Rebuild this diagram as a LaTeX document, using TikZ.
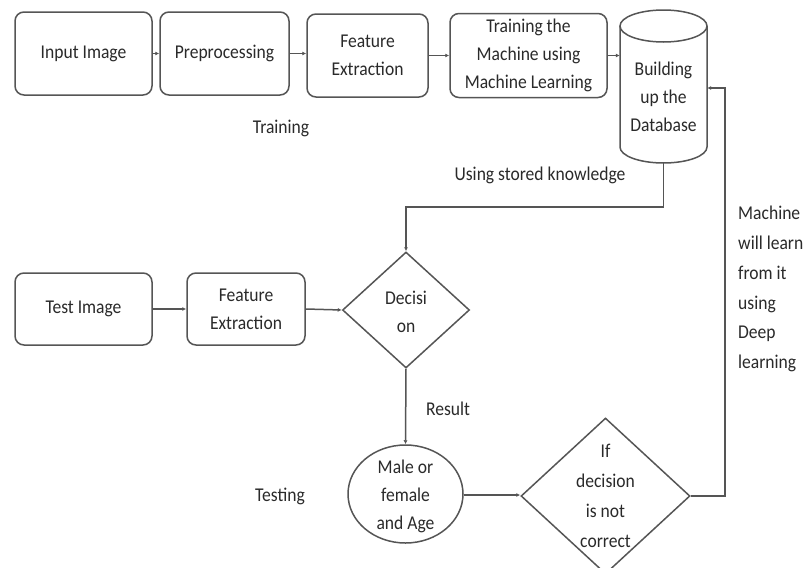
\documentclass[tikz,border=0pt]{standalone}
\usepackage{fontspec}
\setmainfont[FakeStretch=0.9]{Carlito}
\usetikzlibrary{shapes.geometric,arrows.meta,calc}
\definecolor{ln}{HTML}{555555}
\definecolor{tx}{HTML}{2A2A2A}
\begin{document}
\begin{tikzpicture}[x=1pt,y=-1pt,
  every node/.style={text=tx,font=\fontsize{19.5}{28}\selectfont,align=center,inner sep=0pt},
  rbox/.style={draw=ln,line width=1.5pt,rounded corners=9pt},
  dia/.style={draw=ln,line width=1.5pt,diamond,inner sep=0pt},
  conn/.style={draw=ln,line width=1.5pt,-{Latex[length=4pt,width=4pt]}},
  plain/.style={draw=ln,line width=1.5pt}]
\useasboundingbox (0,0) rectangle (807,568);
\fill[white] (0,0) rectangle (807,568);
% training row
\node[rbox,minimum width=137pt,minimum height=83pt] (in) at (83.5,53.5) {Input Image};
\node[rbox,minimum width=129pt,minimum height=83pt] (pre) at (224.5,53.5) {Preprocessing};
\node[rbox,minimum width=121pt,minimum height=83pt] (fe1) at (367.5,55.5) {Feature\\Extraction};
\node[rbox,minimum width=157pt,minimum height=84pt] (tr) at (528.5,55.5) {};
\node (trt) at (528.5,55.5) {Training the\\Machine using\\Machine Learning};
% database cylinder
\node[minimum width=87pt,minimum height=153pt] (db) at (663.5,86.5) {};
\draw[plain] (620,26) -- (620,147) arc[start angle=180,end angle=360,x radius=43.5pt,y radius=16pt] -- (707,26);
\draw[plain] (663.5,26) ellipse [x radius=43.5pt,y radius=16pt];
\node (dbt) at (663.5,97) {Building\\up the\\Database};
% testing row
\node[rbox,minimum width=137pt,minimum height=72pt] (ti) at (83.5,309) {Test Image};
\node[rbox,minimum width=118pt,minimum height=72pt] (fe2) at (246,309) {Feature\\Extraction};
\node[dia,minimum width=127pt,minimum height=116pt] (dec) at (406,310) {};
\node (dect) at (406,312) {Decisi\\on};
\node[draw=ln,line width=1.5pt,ellipse,minimum width=115pt,minimum height=98pt] (res) at (405.5,494) {};
\node (rest) at (405.5,496) {Male or\\female\\and Age};
\node[dia,minimum width=169pt,minimum height=156pt] (ifd) at (605.5,496) {};
\node[font=\fontsize{19.5}{30}\selectfont] (ifdt) at (605.5,496) {If\\decision\\is not\\correct};
% labels
\node (ltr) at (281,128) {Training};
\node (lus) at (540,175) {Using stored knowledge};
\node (lre) at (448,409) {Result};
\node (lte) at (280,496) {Testing};
\node[anchor=north west,align=left,font=\fontsize{19.5}{29.8}\selectfont] (lml) at (738,206) {Machine\\will learn\\from it\\using\\Deep\\learning};
% connectors
\draw[conn] (in) -- (pre);
\draw[conn] (pre.east |- 0,53.5) -- (fe1.west |- 0,53.5);
\draw[conn] (fe1.east |- 0,55.5) -- (tr.west |- 0,55.5);
\draw[conn] (tr.east |- 0,55.5) -- (db.west |- 0,55.5);
\draw[conn] (db.south) -- ++(0,44) -| (dec.north);
\draw[conn] (ti) -- (fe2);
\draw[conn] (fe2.east) -- (dec.west);
\draw[conn] (dec.south) -- (res.north);
\draw[conn] (res.east |- 0,495) -- (ifd.west |- 0,495);
\draw[conn] (ifd.east) -- ++(34,0) |- ($(db.east)+(0,1.5)$);
\end{tikzpicture}
\end{document}
